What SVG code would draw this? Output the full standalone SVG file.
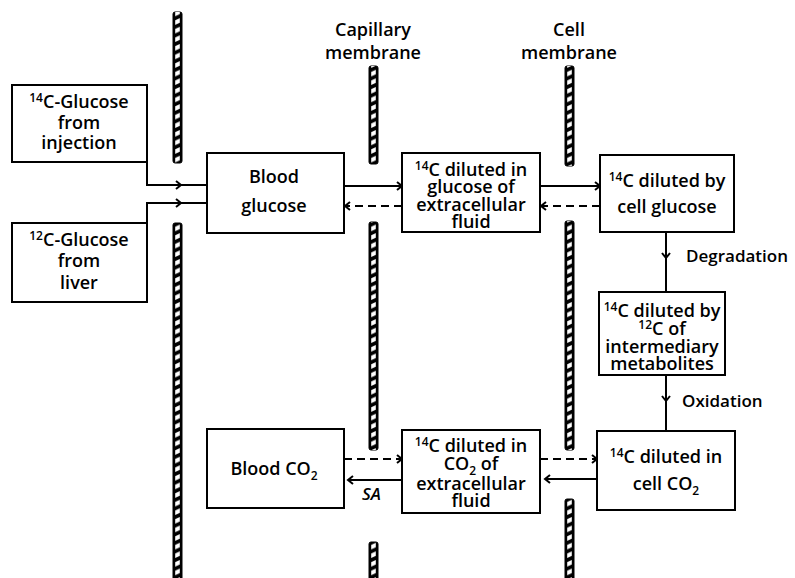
<svg xmlns="http://www.w3.org/2000/svg" width="795" height="578" viewBox="0 0 795 578">
<style>
  .box{fill:#fff;stroke:#000;stroke-width:2}
  .t{font-family:"Open Sans","Liberation Sans",sans-serif;font-weight:600;font-size:18px;fill:#000;text-anchor:middle}
  .l{font-family:"Open Sans","Liberation Sans",sans-serif;font-weight:600;font-size:17px;fill:#000}
  .ln{fill:none;stroke:#000;stroke-width:2}
  .d{fill:none;stroke:#000;stroke-width:2;stroke-dasharray:8 5}
  .mem{fill:#000;stroke:#000;stroke-width:1}
  .hat{fill:url(#hatch)}
  .sup{font-size:12px}
</style>
<defs>
  <pattern id="hatch" patternUnits="userSpaceOnUse" x="0" y="0" width="9" height="8.6">
    <polygon points="2.2,3 6.8,1 6.8,5.6 2.2,7.6" fill="#fff"/>
  </pattern>
  <marker id="ah" markerWidth="10" markerHeight="10" refX="7" refY="5" orient="auto" markerUnits="userSpaceOnUse">
    <path d="M2,1 L7,5 L2,9" fill="none" stroke="#000" stroke-width="2"/>
  </marker>
</defs>

<g id="membranes">
  <g transform="translate(173,0)">
    <rect class="mem" x="0" y="12" width="9" height="151" rx="2"/><rect class="hat" x="0" y="12" width="9" height="151"/>
    <rect class="mem" x="0" y="223" width="9" height="360" rx="2"/><rect class="hat" x="0" y="223" width="9" height="360"/>
  </g>
  <g transform="translate(369,0)">
    <rect class="mem" x="0" y="66" width="9" height="98" rx="2"/><rect class="hat" x="0" y="66" width="9" height="98"/>
    <rect class="mem" x="0" y="222" width="9" height="228" rx="2"/><rect class="hat" x="0" y="222" width="9" height="228"/>
    <rect class="mem" x="0" y="542" width="9" height="40" rx="2"/><rect class="hat" x="0" y="542" width="9" height="40"/>
  </g>
  <g transform="translate(565,0)">
    <rect class="mem" x="0" y="66" width="9" height="100" rx="2"/><rect class="hat" x="0" y="66" width="9" height="100"/>
    <rect class="mem" x="0" y="221" width="9" height="229" rx="2"/><rect class="hat" x="0" y="221" width="9" height="229"/>
    <rect class="mem" x="0" y="499" width="9" height="83" rx="2"/><rect class="hat" x="0" y="499" width="9" height="83"/>
  </g>
  <text class="t" x="373" y="36">Capillary<tspan x="373" y="59">membrane</tspan></text>
  <text class="t" x="569" y="36">Cell<tspan x="569" y="59">membrane</tspan></text>
</g>

<g id="connectors">
  <path class="ln" d="M147,162 V185 H181" marker-end="url(#ah)"/>
  <path class="ln" d="M181,185 H207"/>
  <path class="ln" d="M147,223 V203 H181" marker-end="url(#ah)"/>
  <path class="ln" d="M181,203 H207"/>
  <path class="ln" d="M344,186 H402" marker-end="url(#ah)"/>
  <path class="d" d="M402,206 H345" marker-end="url(#ah)"/>
  <path class="ln" d="M540,186 H600" marker-end="url(#ah)"/>
  <path class="d" d="M600,206 H541" marker-end="url(#ah)"/>
  <path class="ln" d="M666,232 V258" marker-end="url(#ah)"/>
  <path class="ln" d="M666,258 V292"/>
  <path class="ln" d="M666,375 V401" marker-end="url(#ah)"/>
  <path class="ln" d="M666,401 V431"/>
  <path class="d" d="M344,459 H402" marker-end="url(#ah)"/>
  <path class="ln" d="M402,480 H348" marker-end="url(#ah)"/>
  <text class="l" x="362" y="500" style="font-style:italic">SA</text>
  <path class="d" d="M540,459 H597" marker-end="url(#ah)"/>
  <path class="ln" d="M597,479 H545" marker-end="url(#ah)"/>
  <text class="l" x="686" y="262">Degradation</text>
  <text class="l" x="682" y="407">Oxidation</text>
</g>

<g id="injection">
  <rect class="box" x="12" y="85" width="135" height="77"/>
  <text class="t" x="79" y="108"><tspan class="sup" dy="-6">14</tspan><tspan dy="6">C-Glucose</tspan><tspan x="79" y="129">from</tspan><tspan x="79" y="149">injection</tspan></text>
</g>
<g id="liver">
  <rect class="box" x="12" y="223" width="135" height="79"/>
  <text class="t" x="79" y="246"><tspan class="sup" dy="-6">12</tspan><tspan dy="6">C-Glucose</tspan><tspan x="79" y="267">from</tspan><tspan x="79" y="289">liver</tspan></text>
</g>
<g id="blood-glucose">
  <rect class="box" x="207" y="153" width="137" height="80"/>
  <text class="t" x="274" y="183">Blood<tspan x="274" y="212">glucose</tspan></text>
</g>
<g id="ecf-glucose">
  <rect class="box" x="402" y="153" width="138" height="79"/>
  <text class="t" x="471" y="176"><tspan class="sup" dy="-6">14</tspan><tspan dy="6">C diluted in</tspan><tspan x="471" y="193">glucose of</tspan><tspan x="471" y="211">extracellular</tspan><tspan x="471" y="228">fluid</tspan></text>
</g>
<g id="cell-glucose">
  <rect class="box" x="600" y="155" width="134" height="77"/>
  <text class="t" x="667" y="187"><tspan class="sup" dy="-6">14</tspan><tspan dy="6">C diluted by</tspan><tspan x="667" y="213">cell glucose</tspan></text>
</g>
<g id="intermediary">
  <rect class="box" x="599" y="292" width="126" height="83"/>
  <text class="t" x="662" y="317"><tspan class="sup" dy="-6">14</tspan><tspan dy="6">C diluted by</tspan><tspan x="662" y="335"><tspan class="sup" dy="-6">12</tspan><tspan dy="6">C of</tspan></tspan><tspan x="662" y="353">intermediary</tspan><tspan x="662" y="370">metabolites</tspan></text>
</g>
<g id="blood-co2">
  <rect class="box" x="207" y="429" width="137" height="79"/>
  <text class="t" x="274" y="475">Blood CO<tspan class="sup" dy="5">2</tspan></text>
</g>
<g id="ecf-co2">
  <rect class="box" x="402" y="430" width="138" height="83"/>
  <text class="t" x="471" y="452"><tspan class="sup" dy="-6">14</tspan><tspan dy="6">C diluted in</tspan><tspan x="471" y="470">CO<tspan class="sup" dy="5">2</tspan><tspan dy="-5"> of</tspan></tspan><tspan x="471" y="490">extracellular</tspan><tspan x="471" y="507">fluid</tspan></text>
</g>
<g id="cell-co2">
  <rect class="box" x="597" y="431" width="138" height="79"/>
  <text class="t" x="666" y="463"><tspan class="sup" dy="-6">14</tspan><tspan dy="6">C diluted in</tspan><tspan x="666" y="490">cell CO<tspan class="sup" dy="5">2</tspan></tspan></text>
</g>
</svg>
